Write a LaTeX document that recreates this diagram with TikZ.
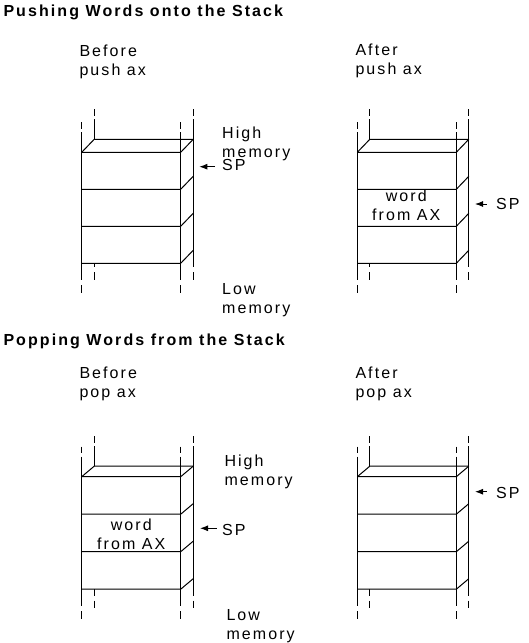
\documentclass[tikz,border=0pt]{standalone}
\usepackage{fontspec}
\setmainfont{Liberation Sans}[LetterSpace=13]
\newfontfamily\headfont{Liberation Sans}[LetterSpace=13]
\usetikzlibrary{arrows.meta}

\tikzset{
  txt/.style={anchor=base west, inner sep=0pt, align=left,
    font=\fontsize{16}{19}\selectfont},
  heading/.style={anchor=base west, inner sep=0pt,
    font=\headfont\bfseries\fontsize{16}{19}\selectfont},
  cellword/.style={anchor=base, inner sep=0pt, align=center,
    font=\fontsize{16}{19}\selectfont},
  sparrow/.style={-{Latex[length=8pt,width=6pt]}, line width=1pt}
}

% vertical guide line with broken ends: x, top, bottom
\newcommand{\guide}[3]{%
  \draw (#1,#2-30) -- (#1,#2-23.5);
  \draw (#1,#2-20) -- (#1,#3+17);
  \draw (#1,#3+22) -- (#1,#3+29.5);}

% stack of three words: corner of front face, row height, depth
\newcommand{\memstack}[4]{%
  \begin{scope}[shift={(#1,#2)}]
    \pgfmathsetmacro{\hh}{3*#3}
    % left back edge, hidden behind the box
    \guide{12.5}{-#4}{\hh-#4}
    % box faces
    \fill[white] (0,0) -- (12.5,-#4) -- (111.5,-#4) -- (111.5,\hh-#4)
      -- (99,\hh) -- (0,\hh) -- cycle;
    \guide{111.5}{-#4}{\hh-#4}
    \draw (0,0) -- (12.5,-#4) -- (111.5,-#4);
    \foreach \r in {0,1,2,3}
      \draw (0,\r*#3) -- (99,\r*#3) -- (111.5,\r*#3-#4);
    % front edges
    \guide{0}{0}{\hh}
    \guide{99}{0}{\hh}
  \end{scope}}

\begin{document}
\begin{tikzpicture}[x=1pt, y=-1pt, line width=1pt]
  \useasboundingbox (0,0) rectangle (528,643);

  % Pushing (two-line nodes sit on their last baseline)
  \node[heading] (push) at (3,16.7) {Pushing Words onto the Stack};
  \node[txt] (before1) at (79,75) {Before\\push ax};
  \node[txt] (after1) at (355,74.5) {After\\push ax};

  \memstack{81.7}{152.3}{37}{13}
  \memstack{357.3}{152.3}{37}{13}

  \node[txt] (high1) at (221.7,157.3) {High\\memory};
  \node[txt] (low1) at (221.7,313) {Low\\memory};
  \node[cellword] (word1) at (406.3,220.7) {word\\from AX};

  \node[txt] (sp1) at (221.7,170) {SP};
  \coordinate (tip1) at (199.3,166.7);
  \draw[sparrow] ([xshift=-6.7pt]sp1.west |- tip1) -- (tip1);

  \node[txt] (sp2) at (495.7,209.3) {SP};
  \coordinate (tip2) at (475,204);
  \draw[sparrow] ([xshift=-9pt]sp2.west |- tip2) -- (tip2);

  % Popping
  \node[heading] (pop) at (3,345) {Popping Words from the Stack};
  \node[txt] (before2) at (79,397.3) {Before\\pop ax};
  \node[txt] (after2) at (355,397.3) {After\\pop ax};

  \memstack{81.7}{476.7}{37.5}{10.5}
  \memstack{357.3}{476.7}{37.5}{10.5}

  \node[txt] (high2) at (224,485.7) {High\\memory};
  \node[txt] (low2) at (226,639) {Low\\memory};
  \node[cellword] (word2) at (131.3,549) {word\\from AX};

  \node[txt] (sp3) at (221.7,535) {SP};
  \coordinate (tip3) at (200,528.3);
  \draw[sparrow] ([xshift=-5pt]sp3.west |- tip3) -- (tip3);

  \node[txt] (sp4) at (495.7,498.3) {SP};
  \coordinate (tip4) at (475,491.7);
  \draw[sparrow] ([xshift=-9pt]sp4.west |- tip4) -- (tip4);
\end{tikzpicture}
\end{document}
